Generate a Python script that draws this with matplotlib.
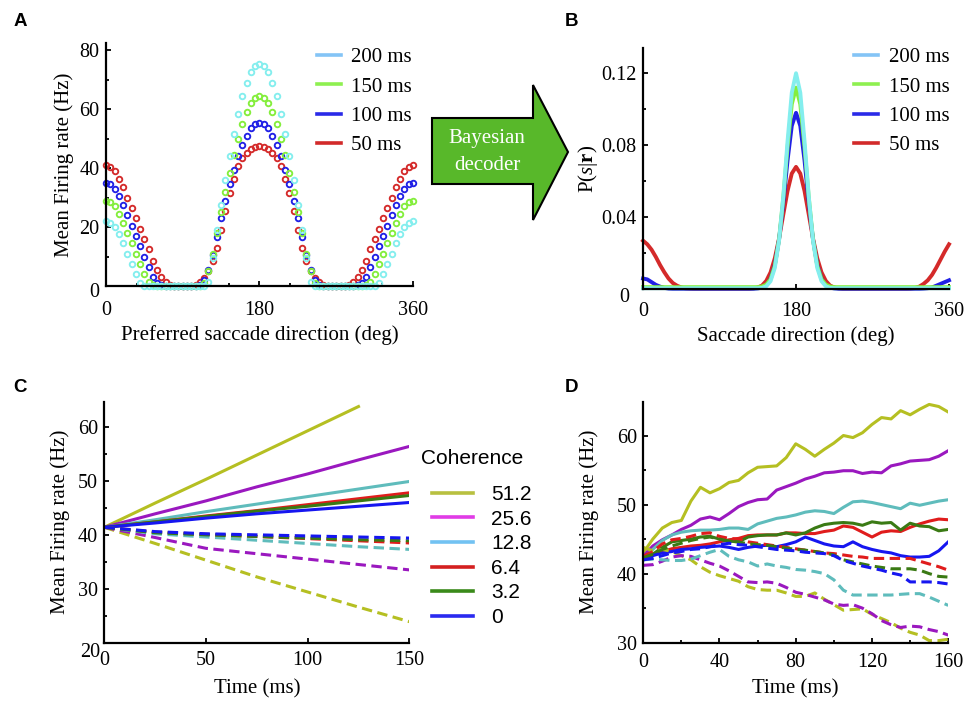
import matplotlib
matplotlib.use("Agg")
import matplotlib.pyplot as plt
from matplotlib.lines import Line2D
from matplotlib.patches import Polygon
from matplotlib.ticker import MultipleLocator

SERIF = "Liberation Serif"
SANS = "Liberation Sans"

plt.rcParams["font.family"] = [SERIF, "DejaVu Serif"]
plt.rcParams["mathtext.fontset"] = "custom"
plt.rcParams["mathtext.rm"] = SERIF
plt.rcParams["mathtext.it"] = SERIF + ":italic"
plt.rcParams["mathtext.bf"] = SERIF + ":bold"

# ---------------- panel A: population response (Hz) vs preferred direction
pref_dir = list(range(0, 361, 5))
a_50ms = [41, 40.5, 39, 36.5, 33.5, 30, 26.5, 23, 19.5, 16, 12.5, 8.5, 5.5, 3, 1.2, 0.3, 0, 0, 0, 0,
          0, 0.4, 1.3, 2.8, 5, 8.5, 13, 19, 25.5, 31.5, 36.5, 40.8, 43.5, 45.3, 46.5, 47.2, 47.5,
          47.2, 46.5, 45.3, 43.5, 40.8, 36.5, 31.5, 25.5, 19, 13, 8.5, 5, 2.8, 1.3, 0.4, 0, 0, 0, 0,
          0, 0.3, 1.2, 3, 5.5, 8.5, 12.5, 16, 19.5, 23, 26.5, 30, 33.5, 36.5, 39, 40.5, 41]
a_100ms = [35, 34.5, 33, 30.5, 27.5, 24, 20.5, 17, 13.5, 10, 6.5, 3, 1, 0.2, 0, 0, 0, 0, 0, 0,
           0, 0, 0.5, 2, 5.5, 10.5, 16.5, 23, 29, 34.5, 39.5, 44, 48, 51, 53.5, 55, 55.5,
           55, 53.5, 51, 48, 44, 39.5, 34.5, 29, 23, 16.5, 10.5, 5.5, 2, 0.5, 0, 0, 0, 0, 0,
           0, 0, 0, 0.2, 1, 3, 6.5, 10, 13.5, 17, 20.5, 24, 27.5, 30.5, 33, 34.5, 35]
a_150ms = [29, 28.5, 27, 24.5, 21.5, 18, 14.5, 11, 7.5, 4, 1.5, 0.3, 0, 0, 0, 0, 0, 0, 0, 0,
           0, 0, 0, 1, 5, 11, 18, 25, 32, 38.5, 44.5, 50, 55, 59, 62, 63.8, 64.5,
           63.8, 62, 59, 55, 50, 44.5, 38.5, 32, 25, 18, 11, 5, 1, 0, 0, 0, 0, 0, 0,
           0, 0, 0, 0, 0, 0.3, 1.5, 4, 7.5, 11, 14.5, 18, 21.5, 24.5, 27, 28.5, 29]
a_200ms = [22, 21.5, 20, 17.5, 14.5, 11, 7.5, 4, 1, 0, 0, 0, 0, 0, 0, 0, 0, 0, 0, 0,
           0, 0, 0, 0, 1.5, 9.5, 19, 27.5, 36, 44, 51.5, 58.5, 64.5, 69, 72.5, 74.8, 75.5,
           74.8, 72.5, 69, 64.5, 58.5, 51.5, 44, 36, 27.5, 19, 9.5, 1.5, 0, 0, 0, 0, 0, 0, 0,
           0, 0, 0, 0, 0, 0, 0, 0, 1, 4, 7.5, 11, 14.5, 17.5, 20, 21.5, 22]

# ---------------- panel B: posterior P(s|r) vs saccade direction
sacc_dir = list(range(0, 361, 5))
b_50ms = [0.027, 0.025, 0.022, 0.018, 0.0135, 0.0095, 0.006, 0.0035, 0.002, 0.001, 0.0005, 0.0003,
          0.0002, 0.0002, 0.0002, 0.0002, 0.0002, 0.0002, 0.0002, 0.0002, 0.0002, 0.0002, 0.0002,
          0.0002, 0.0002, 0.0002,
          0.0005, 0.001, 0.0021, 0.0047, 0.0094, 0.0172, 0.0282, 0.0415, 0.0546, 0.0643, 0.068,
          0.0643, 0.0546, 0.0415, 0.0282, 0.0172, 0.0094, 0.0047, 0.0021, 0.001, 0.0005,
          0.0002, 0.0002, 0.0002, 0.0002, 0.0002, 0.0002, 0.0002, 0.0002, 0.0002, 0.0002, 0.0002,
          0.0002, 0.0002, 0.0002, 0.0002, 0.0002,
          0.0003, 0.0007, 0.0015, 0.003, 0.005, 0.008, 0.012, 0.0165, 0.021, 0.025]
b_100ms = [0.006, 0.0055, 0.004, 0.0025, 0.0015, 0.0008, 0.0004, 0.0003, 0.0003, 0.0003, 0.0003,
           0.0003, 0.0003, 0.0003, 0.0003, 0.0003, 0.0003, 0.0003, 0.0003, 0.0003, 0.0003, 0.0003,
           0.0003, 0.0003, 0.0003, 0.0003,
           0.0003, 0.0005, 0.0009, 0.0022, 0.0058, 0.0136, 0.0276, 0.048, 0.0715, 0.0908, 0.098,
           0.0908, 0.0715, 0.048, 0.0276, 0.0136, 0.0058, 0.0022, 0.0009, 0.0005, 0.0003,
           0.0003, 0.0003, 0.0003, 0.0003, 0.0003, 0.0003, 0.0003, 0.0003, 0.0003, 0.0003, 0.0003,
           0.0003, 0.0003, 0.0003, 0.0003, 0.0003,
           0.0003, 0.0003, 0.0003, 0.0004, 0.0006, 0.001, 0.002, 0.003, 0.004, 0.005]
b_150ms = [0.0012, 0.0012, 0.0012, 0.0012, 0.0012, 0.0012, 0.0012, 0.0012, 0.0012, 0.0012, 0.0012,
           0.0012, 0.0012, 0.0012, 0.0012, 0.0012, 0.0012, 0.0012, 0.0012, 0.0012, 0.0012, 0.0012,
           0.0012, 0.0012, 0.0012, 0.0012,
           0.0012, 0.0012, 0.0016, 0.0026, 0.0056, 0.013, 0.0276, 0.0508, 0.0788, 0.1028, 0.112,
           0.1028, 0.0788, 0.0508, 0.0276, 0.013, 0.0056, 0.0026, 0.0016, 0.0012, 0.0012,
           0.0012, 0.0012, 0.0012, 0.0012, 0.0012, 0.0012, 0.0012, 0.0012, 0.0012, 0.0012, 0.0012,
           0.0012, 0.0012, 0.0012, 0.0012, 0.0012,
           0.0012, 0.0012, 0.0012, 0.0012, 0.0012, 0.0012, 0.0012, 0.0012, 0.0012, 0.0012]
b_200ms = [0.0006, 0.0006, 0.0006, 0.0006, 0.0006, 0.0006, 0.0006, 0.0006, 0.0006, 0.0006, 0.0006,
           0.0006, 0.0006, 0.0006, 0.0006, 0.0006, 0.0006, 0.0006, 0.0006, 0.0006, 0.0006, 0.0006,
           0.0006, 0.0006, 0.0006, 0.0006,
           0.0006, 0.0006, 0.0008, 0.0017, 0.0045, 0.0118, 0.027, 0.0515, 0.0822, 0.1092, 0.12,
           0.1092, 0.0822, 0.0515, 0.027, 0.0118, 0.0045, 0.0017, 0.0008, 0.0006, 0.0006,
           0.0006, 0.0006, 0.0006, 0.0006, 0.0006, 0.0006, 0.0006, 0.0006, 0.0006, 0.0006, 0.0006,
           0.0006, 0.0006, 0.0006, 0.0006, 0.0006,
           0.0006, 0.0006, 0.0006, 0.0006, 0.0006, 0.0006, 0.0006, 0.0006, 0.0006, 0.0006]

duration_labels = ["200 ms", "150 ms", "100 ms", "50 ms"]

# ---------------- panel C: model firing rates (Hz)
coherence_labels = ["51.2", "25.6", "12.8", "6.4", "3.2", "0"]
c_time = [0, 25, 50, 75, 100, 125, 150]
c_pref = [
    [41.4, 45.9, 50.3, 54.8, 59.3, 63.8, float("nan")],
    [41.4, 43.9, 46.3, 48.9, 51.3, 53.9, 56.4],
    [41.4, 42.8, 44.3, 45.7, 47.1, 48.5, 49.9],
    [41.4, 42.4, 43.5, 44.5, 45.6, 46.7, 47.8],
    [41.4, 42.4, 43.4, 44.4, 45.3, 46.3, 47.3],
    [41.4, 42.2, 43.1, 43.9, 44.6, 45.3, 46.0],
]
c_null = [
    [41.4, 38.4, 35.3, 32.2, 29.4, 26.6, 23.9],
    [41.4, 39.5, 37.5, 36.5, 35.5, 34.5, 33.5],
    [41.4, 40.2, 39.6, 39.0, 38.4, 37.8, 37.3],
    [41.4, 40.5, 40.1, 39.7, 39.3, 38.9, 38.5],
    [41.4, 40.4, 40.0, 39.7, 39.4, 39.1, 38.9],
    [41.4, 40.6, 40.2, 40.0, 39.8, 39.6, 39.4],
]

# ---------------- panel D: recorded firing rates (Hz)
d_time = list(range(0, 161, 5))
d_pref = [
    [43.0, 45.0, 46.6, 47.4, 47.7, 50.5, 52.5, 51.7, 52.3, 53.2, 53.5, 54.6, 55.4, 55.5, 55.6, 56.8,
     58.8, 58.0, 57.0, 58.0, 58.9, 60.0, 59.7, 60.4, 61.6, 62.6, 62.4, 63.6, 63.0, 63.8, 64.5, 64.2, 63.4],
    [42.5, 44.0, 44.9, 45.6, 46.4, 47.0, 47.9, 48.2, 47.8, 48.7, 49.7, 50.3, 50.7, 50.8, 52.1, 52.6,
     53.1, 53.7, 54.1, 54.6, 54.7, 54.9, 54.9, 54.5, 54.7, 54.6, 55.6, 55.9, 56.3, 56.4, 56.5, 57.0, 57.8],
    [42.0, 43.5, 44.8, 45.6, 46.0, 46.2, 46.3, 46.3, 46.4, 46.6, 46.6, 46.4, 47.2, 47.6, 48.0, 48.2,
     48.5, 48.9, 49.1, 49.0, 48.7, 49.6, 50.4, 50.5, 50.3, 50.0, 49.7, 49.4, 50.2, 49.9, 50.2, 50.5, 50.7],
    [42.3, 42.8, 43.2, 43.6, 43.8, 44.0, 44.1, 44.3, 44.6, 44.9, 45.1, 45.5, 45.6, 45.6, 45.6, 45.9,
     45.9, 45.8, 45.8, 46.1, 46.3, 46.9, 46.7, 46.0, 45.3, 46.0, 46.2, 46.1, 46.7, 47.2, 47.6, 47.9, 47.8],
    [42.0, 42.8, 43.8, 44.6, 44.8, 45.0, 45.3, 45.4, 45.0, 44.7, 44.6, 45.3, 45.5, 45.6, 45.6, 45.9,
     45.6, 45.9, 46.6, 47.1, 47.3, 47.4, 47.3, 47.0, 47.5, 47.3, 47.4, 46.3, 47.3, 46.9, 46.8, 46.2, 46.4],
    [42.0, 42.6, 43.0, 43.2, 43.5, 43.6, 43.8, 43.9, 44.0, 43.8, 43.5, 43.8, 44.0, 44.1, 43.9, 44.2,
     44.6, 45.3, 44.8, 44.3, 44.0, 43.9, 44.6, 43.9, 43.5, 43.2, 43.0, 42.6, 42.4, 42.4, 42.5, 43.3, 44.6],
]
d_null = [
    [43.8, 43.3, 43.5, 43.2, 42.6, 42.0, 41.0, 40.2, 39.7, 39.3, 38.9, 38.1, 37.7, 37.6, 37.6, 37.2,
     36.7, 36.7, 37.2, 36.3, 35.5, 34.7, 34.8, 34.9, 34.1, 33.5, 32.9, 32.1, 31.5, 31.1, 30.3, 30.3, 30.5],
    [41.2, 41.3, 41.8, 42.4, 42.6, 42.5, 42.0, 41.5, 41.1, 40.4, 39.6, 38.8, 38.7, 38.8, 38.6, 38.0,
     37.3, 37.0, 36.6, 36.2, 35.6, 35.4, 35.5, 35.0, 34.2, 33.2, 32.6, 32.2, 32.4, 32.3, 31.9, 31.6, 31.1],
    [42.0, 42.1, 42.0, 41.9, 41.9, 42.1, 42.6, 43.1, 43.5, 42.5, 42.0, 41.7, 41.1, 41.4, 41.1, 40.9,
     40.6, 40.5, 40.3, 40.0, 39.1, 37.6, 36.9, 36.9, 36.9, 36.9, 36.9, 37.0, 37.1, 37.1, 36.6, 36.0, 35.4],
    [42.5, 43.2, 44.3, 44.9, 45.1, 45.4, 45.8, 45.9, 45.4, 45.1, 45.0, 44.6, 44.4, 44.2, 44.0, 43.8,
     43.6, 43.4, 43.2, 43.0, 42.9, 42.7, 42.5, 42.4, 42.2, 42.2, 42.2, 42.2, 42.2, 41.8, 41.4, 41.0, 40.5],
    [42.3, 42.8, 43.5, 44.0, 44.4, 44.8, 45.1, 45.3, 45.0, 44.7, 44.6, 44.3, 44.2, 44.1, 43.9, 43.7,
     43.5, 43.4, 43.2, 43.0, 42.7, 42.0, 41.7, 41.4, 41.1, 40.9, 40.7, 40.7, 40.7, 40.5, 40.0, 39.6, 39.5],
    [42.0, 42.2, 42.6, 43.0, 43.2, 43.5, 43.6, 43.9, 44.2, 44.4, 44.2, 44.1, 43.9, 43.7, 43.5, 43.4,
     43.3, 43.1, 43.0, 42.9, 42.6, 41.9, 41.5, 41.1, 40.8, 40.5, 40.1, 39.8, 38.8, 38.8, 38.8, 38.7, 38.5],
]

# colours
dur_colors = ["#84eeee", "#84ee3c", "#2020e6", "#d42a2a"]        # 200, 150, 100, 50 ms (data)
dur_legend = ["#84c4f6", "#8ef050", "#2a2ae8", "#d22a2a"]
coh_colors = ["#b5bf22", "#9a18bf", "#5fbcbc", "#e01c1c", "#3a7a14", "#1616f0"]
coh_legend = ["#b8c040", "#e03ce6", "#72c2f2", "#d42020", "#3a8a1a", "#2a2af0"]

FS = 15
W, H = 967.0, 701.0


def style_axes(ax, xpad=4):
    for side in ("top", "right"):
        ax.spines[side].set_visible(False)
    for side in ("left", "bottom"):
        ax.spines[side].set_linewidth(1.6)
    ax.tick_params(which="both", direction="in", width=1.3, top=False, right=False, labelsize=FS - 0.5)
    ax.tick_params(which="major", length=3.5)
    ax.tick_params(which="minor", length=2.5)
    ax.tick_params(axis="y", pad=4.5)
    ax.tick_params(axis="x", pad=xpad)


def corner_zero(ax, text, dx, dy):
    ax.annotate(text, xy=(0, 0), xycoords=("axes fraction", "axes fraction"), xytext=(dx, dy),
                textcoords="offset points", ha="right", va="center", fontsize=FS - 0.5)


fig = plt.figure(figsize=(9.67, 7.01), dpi=100)
ax_a = fig.add_axes([0.1096, 0.592, 0.3175, 0.3466])
ax_b = fig.add_axes([0.6650, 0.5873, 0.3164, 0.3442])
ax_c = fig.add_axes([0.1079, 0.0832, 0.3154, 0.3438])
ax_d = fig.add_axes([0.6652, 0.0832, 0.3154, 0.3438])

# ---- A
a_series = [a_50ms, a_100ms, a_150ms, a_200ms]
for vals, col in zip(a_series, dur_colors[::-1]):
    ax_a.plot(pref_dir, vals, ls="none", marker="o", ms=4.0, mfc="none", mec=col, mew=1.35, clip_on=False)
ax_a.set_xlim(0, 360)
ax_a.set_ylim(0, 82.5)
ax_a.set_xticks([0, 180, 360])
ax_a.xaxis.set_minor_locator(MultipleLocator(36))
ax_a.set_yticks([0, 20, 40, 60, 80])
ax_a.set_yticklabels(["", "20", "40", "60", "80"])
ax_a.yaxis.set_minor_locator(MultipleLocator(10))
style_axes(ax_a, xpad=10.5)
corner_zero(ax_a, "0", -5, -5)
ax_a.set_xlabel("Preferred saccade direction (deg)", fontsize=FS, labelpad=4)
ax_a.set_ylabel("Mean Firing rate (Hz)", fontsize=FS, labelpad=4)

# ---- B
b_series = [b_50ms, b_100ms, b_150ms, b_200ms]
for vals, col in zip(b_series, dur_colors[::-1]):
    ax_b.plot(sacc_dir, vals, color=col, lw=2.8, solid_joinstyle="round", clip_on=False)
ax_b.set_xlim(0, 360)
ax_b.set_ylim(0, 0.134)
ax_b.set_xticks([0, 180, 360])
ax_b.xaxis.set_minor_locator(MultipleLocator(36))
ax_b.set_yticks([0, 0.04, 0.08, 0.12])
ax_b.set_yticklabels(["", "0.04", "0.08", "0.12"])
ax_b.yaxis.set_minor_locator(MultipleLocator(0.02))
style_axes(ax_b, xpad=9)
corner_zero(ax_b, "0", -10, -6)
ax_b.set_xlabel("Saccade direction (deg)", fontsize=FS, labelpad=4)
ax_b.set_ylabel(r"P($s$|$\mathbf{r}$)", fontsize=FS, labelpad=1)

for ax, anchor_x in ((ax_a, 0.426), (ax_b, 0.982)):
    handles = [Line2D([], [], color=c, lw=2.6) for c in dur_legend]
    ax.legend(handles, duration_labels, loc="upper right", bbox_to_anchor=(anchor_x, 0.932),
              bbox_transform=fig.transFigure, frameon=False, fontsize=FS, handlelength=1.15,
              handletextpad=0.5, labelspacing=0.47, borderpad=0, borderaxespad=0)

# ---- C
for vals, col in zip(c_pref, coh_colors):
    ax_c.plot(c_time, vals, color=col, lw=2.2)
for vals, col in zip(c_null, coh_colors):
    ax_c.plot(c_time, vals, color=col, lw=2.2, dashes=(3.4, 1.8))
ax_c.set_xlim(0, 150)
ax_c.set_ylim(20, 64.7)
ax_c.set_xticks([0, 50, 100, 150])
ax_c.set_yticks([20, 30, 40, 50, 60])
ax_c.set_yticklabels(["", "30", "40", "50", "60"])
ax_c.yaxis.set_minor_locator(MultipleLocator(5))
style_axes(ax_c, xpad=6)
corner_zero(ax_c, "20", -3, -7)
ax_c.set_xlabel("Time (ms)", fontsize=FS, labelpad=7)
ax_c.set_ylabel("Mean Firing rate (Hz)", fontsize=FS, labelpad=6)

fig.text(421 / W, 1 - 458 / H, "Coherence", family=SANS, fontsize=FS, ha="left", va="center")
c_handles = [Line2D([], [], color=c, lw=2.6) for c in coh_legend]
ax_c.legend(c_handles, coherence_labels, loc="upper left",
            bbox_to_anchor=(432 / W, 1 - 485 / H), bbox_transform=fig.transFigure, frameon=False,
            prop={"family": SANS, "size": FS}, handlelength=1.97, handletextpad=0.86,
            labelspacing=0.27, borderpad=0, borderaxespad=0)

# ---- D
for vals, col in zip(d_pref, coh_colors):
    ax_d.plot(d_time, vals, color=col, lw=2.2)
for vals, col in zip(d_null, coh_colors):
    ax_d.plot(d_time, vals, color=col, lw=2.2, dashes=(3.4, 1.8))
ax_d.set_xlim(0, 160)
ax_d.set_ylim(30, 64.9)
ax_d.set_xticks([0, 40, 80, 120, 160])
ax_d.xaxis.set_minor_locator(MultipleLocator(20))
ax_d.set_yticks([30, 40, 50, 60])
ax_d.yaxis.set_minor_locator(MultipleLocator(5))
style_axes(ax_d, xpad=7.5)
ax_d.set_xlabel("Time (ms)", fontsize=FS, labelpad=5)
ax_d.set_ylabel("Mean Firing rate (Hz)", fontsize=FS, labelpad=13)

# ---- block arrow "Bayesian decoder"
arrow_px = [(432, 118), (533, 118), (533, 85), (568, 152), (533, 220), (533, 184), (432, 184)]
fig.patches.append(Polygon([(x / W, 1 - y / H) for x, y in arrow_px], closed=True,
                           transform=fig.transFigure, facecolor="#58b82a", edgecolor="black",
                           lw=1.5, joinstyle="miter"))
fig.text(487 / W, 1 - 152 / H, "Bayesian\ndecoder", color="white", fontsize=FS, ha="center",
         va="center", linespacing=1.55)

# ---- panel letters
for letter, (x, y) in {"A": (20, 22), "B": (572, 22), "C": (20, 387), "D": (572, 387)}.items():
    fig.text(x / W, 1 - y / H, letter, family=SANS, weight="bold", fontsize=13.5, ha="center", va="center")

fig.savefig("out.png", dpi=100)
